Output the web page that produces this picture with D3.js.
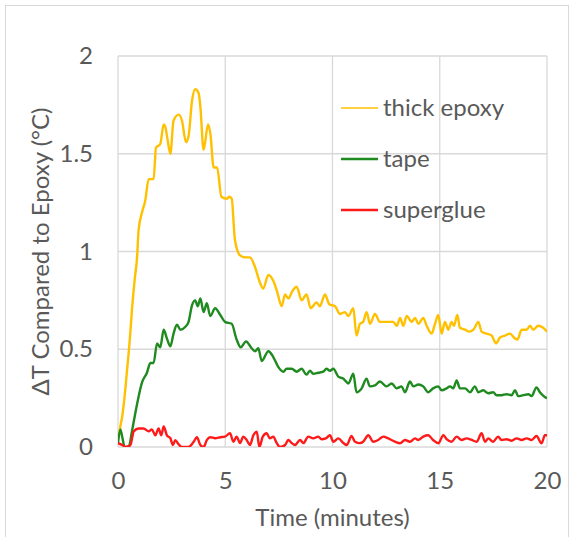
<!DOCTYPE html>
<html>
<head>
  <meta charset="UTF-8">
  <title>Delta T chart</title>
  <script src="https://cdn.jsdelivr.net/npm/d3@7"></script>
  <style type="text/css">
    body { margin: 0; background: #fff; }
    text { font-family: Lato, "Open Sans", sans-serif; fill: #595959; }
  </style>
</head>
<body>
  <script type="text/javascript">

    // data: [time (min), delta T (C)]
    var epoxy = [[0,0.04],[0.1,0.1],[0.2,0.16],[0.3,0.25],[0.42,0.39],[0.55,0.55],[0.65,0.70],[0.78,0.86],[0.89,0.97],[0.96,1.11],
      [1.12,1.2],[1.27,1.26],[1.43,1.37],[1.66,1.37],[1.77,1.53],[1.97,1.55],[2.13,1.65],[2.2,1.64],[2.3,1.58],[2.44,1.50],
      [2.59,1.67],[2.83,1.70],[2.98,1.67],[3.17,1.56],[3.29,1.59],[3.45,1.77],[3.6,1.83],[3.76,1.81],[3.84,1.74],[3.99,1.52],
      [4.2,1.65],[4.31,1.60],[4.46,1.43],[4.62,1.43],[4.82,1.28],[5.08,1.27],[5.18,1.28],[5.3,1.27],[5.45,1.06],[5.69,0.98],
      [5.92,0.97],[6.15,0.97],[6.39,0.92],[6.62,0.84],[6.77,0.81],[7.01,0.88],[7.24,0.85],[7.43,0.79],[7.63,0.72],[7.79,0.78],
      [7.94,0.76],[8.14,0.80],[8.33,0.82],[8.56,0.75],[8.79,0.78],[8.98,0.71],[9.26,0.74],[9.41,0.72],[9.65,0.78],[9.85,0.73],
      [10.12,0.72],[10.35,0.68],[10.58,0.69],[10.74,0.67],[10.97,0.71],[11.12,0.57],[11.28,0.63],[11.43,0.64],[11.59,0.69],[11.75,0.63],
      [11.98,0.68],[12.21,0.64],[12.52,0.64],[12.83,0.64],[13.0,0.62],[13.15,0.66],[13.3,0.62],[13.46,0.67],[13.69,0.64],[13.85,0.66],
      [14.0,0.63],[14.23,0.66],[14.39,0.62],[14.62,0.58],[14.78,0.63],[14.93,0.675],[15.09,0.58],[15.24,0.64],[15.4,0.60],[15.55,0.64],
      [15.66,0.62],[15.82,0.675],[15.94,0.61],[16.18,0.60],[16.37,0.59],[16.57,0.60],[16.8,0.64],[16.95,0.59],[17.18,0.58],[17.42,0.57],
      [17.62,0.53],[17.81,0.56],[18.04,0.57],[18.27,0.58],[18.51,0.555],[18.62,0.55],[18.82,0.60],[19.05,0.60],[19.21,0.62],[19.36,0.60],
      [19.59,0.62],[19.82,0.61],[20.0,0.59]];

    var tape = [[0,0.02],[0.11,0.09],[0.2,0.05],[0.31,0],[0.5,0],[0.65,0.08],[0.89,0.22],[1.12,0.33],[1.35,0.38],[1.51,0.43],
      [1.66,0.43],[1.82,0.53],[1.97,0.51],[2.13,0.60],[2.28,0.555],[2.44,0.515],[2.59,0.58],[2.75,0.625],[2.91,0.60],[3.14,0.615],
      [3.29,0.64],[3.45,0.725],[3.6,0.75],[3.72,0.72],[3.84,0.76],[3.99,0.69],[4.14,0.735],[4.3,0.67],[4.53,0.71],[4.77,0.675],
      [4.99,0.64],[5.3,0.63],[5.53,0.55],[5.72,0.51],[5.97,0.54],[6.23,0.505],[6.39,0.49],[6.54,0.505],[6.7,0.44],[7.01,0.49],
      [7.24,0.46],[7.47,0.41],[7.71,0.385],[7.86,0.40],[8.1,0.40],[8.33,0.385],[8.56,0.40],[8.79,0.37],[8.95,0.39],[9.1,0.375],
      [9.34,0.38],[9.57,0.385],[9.72,0.40],[9.88,0.39],[10.04,0.40],[10.27,0.36],[10.5,0.35],[10.74,0.325],[10.97,0.375],[11.12,0.28],
      [11.36,0.30],[11.59,0.35],[11.74,0.31],[11.98,0.315],[12.21,0.335],[12.52,0.31],[12.76,0.325],[12.99,0.30],[13.22,0.31],[13.38,0.28],
      [13.61,0.335],[13.77,0.31],[14.0,0.32],[14.23,0.31],[14.46,0.28],[14.69,0.30],[14.93,0.31],[15.09,0.29],[15.32,0.30],[15.48,0.31],
      [15.63,0.30],[15.79,0.34],[15.94,0.30],[16.18,0.30],[16.41,0.28],[16.64,0.31],[16.8,0.28],[17.03,0.29],[17.26,0.275],[17.49,0.28],
      [17.65,0.265],[17.88,0.265],[18.11,0.27],[18.35,0.265],[18.51,0.29],[18.66,0.26],[18.89,0.265],[19.13,0.27],[19.28,0.26],[19.51,0.305],
      [19.67,0.28],[19.91,0.255],[20,0.25]];

    var superglue = [[0,0.02],[0.2,0.01],[0.35,0],[0.58,0.01],[0.73,0.08],[0.96,0.095],[1.19,0.095],[1.43,0.08],[1.58,0.09],[1.74,0.06],
      [1.89,0.095],[2.02,0.06],[2.13,0.105],[2.28,0.06],[2.44,0.045],[2.56,0.01],[2.67,0.035],[2.82,0.015],[2.98,0],[3.29,0],
      [3.52,0.025],[3.68,0.05],[3.84,0.01],[3.99,0],[4.14,0.035],[4.3,0.05],[4.53,0.045],[4.77,0.05],[4.99,0.053],[5.22,0.07],
      [5.38,0.027],[5.53,0.053],[5.69,0.02],[5.84,0.053],[6.0,0.036],[6.15,0.01],[6.31,0.06],[6.47,0.078],[6.59,0],[6.75,0.053],
      [6.93,0.07],[7.08,0.044],[7.24,0.053],[7.4,0.02],[7.55,0],[7.79,0.01],[7.94,0.036],[8.1,0.02],[8.25,0.01],[8.49,0.036],
      [8.64,0.02],[8.87,0.053],[9.1,0.044],[9.34,0.053],[9.49,0.04],[9.69,0.044],[9.88,0.06],[10.04,0.027],[10.27,0.044],[10.51,0.02],
      [10.66,0.01],[10.89,0.056],[11.05,0.027],[11.28,0.02],[11.43,0.027],[11.67,0.06],[11.9,0.027],[12.13,0.036],[12.37,0.053],[12.6,0.044],
      [12.91,0.027],[13.15,0.019],[13.38,0.036],[13.61,0.027],[13.85,0.044],[14.0,0.036],[14.23,0.053],[14.46,0.06],[14.69,0.036],[14.93,0.019],
      [15.17,0.06],[15.32,0.04],[15.55,0.027],[15.79,0.053],[16.02,0.036],[16.25,0.044],[16.49,0.036],[16.72,0.027],[16.95,0.07],[17.11,0.027],
      [17.26,0.044],[17.49,0.027],[17.72,0.053],[17.88,0.036],[18.11,0.04],[18.35,0.032],[18.58,0.044],[18.82,0.036],[19.05,0.044],[19.28,0.036],
      [19.51,0.056],[19.75,0.019],[19.9,0.06],[20,0.06]];

    var seriesNames = ["thick epoxy", "tape", "superglue"];
    var seriesColors = ["#FFC000", "#1F8A1F", "#FF1A1A"];
    var xTicks = [0, 5, 10, 15, 20];
    var yTicks = [0, 0.5, 1, 1.5, 2];

    var W = 571, H = 537;
    var FS = 24; // font size for all text
    var margin = {top: 56, right: 24, bottom: 90, left: 118},
        width = W - margin.left - margin.right,
        height = H - margin.top - margin.bottom;

    var x = d3.scaleLinear().domain([0, 20]).range([0, width]);
    var y = d3.scaleLinear().domain([0, 2]).range([height, 0]);

    var svg = d3.select("body").append("svg")
        .attr("width", W)
        .attr("height", H);

    // outer frame
    svg.append("rect")
        .attr("x", 5.5).attr("y", 5.5)
        .attr("width", 563).attr("height", 545)
        .attr("fill", "none")
        .attr("stroke", "#d9d9d9");

    var g = svg.append("g")
        .attr("transform", "translate(" + margin.left + "," + margin.top + ")");

    // gridlines
    g.selectAll(".hgrid").data(yTicks).enter().append("line")
        .attr("x1", 0).attr("x2", width)
        .attr("y1", function(d) { return y(d); })
        .attr("y2", function(d) { return y(d); })
        .attr("stroke", "#d9d9d9").attr("stroke-width", 1.3);

    g.selectAll(".vgrid").data(xTicks).enter().append("line")
        .attr("y1", 0).attr("y2", height)
        .attr("x1", function(d) { return x(d); })
        .attr("x2", function(d) { return x(d); })
        .attr("stroke", "#d9d9d9").attr("stroke-width", 1.3);

    // axes (labels only, lines are the gridlines)
    var xAxis = d3.axisBottom(x).tickValues(xTicks).tickSize(0).tickPadding(25);
    var yAxis = d3.axisLeft(y).tickValues(yTicks).tickSize(0).tickPadding(25)
        .tickFormat(function(d) { return String(d); });

    var gx = g.append("g").attr("transform", "translate(0," + height + ")").call(xAxis);
    var gy = g.append("g").call(yAxis);
    [gx, gy].forEach(function(a) {
      a.select(".domain").remove();
      a.selectAll("text").attr("font-size", FS).attr("font-family", null).style("fill", "#595959");
    });

    // lines
    g.append("clipPath").attr("id", "plotclip").append("rect")
        .attr("x", 0).attr("y", -2).attr("width", width).attr("height", height + 2);

    var line = d3.line()
        .x(function(d) { return x(d[0]); })
        .y(function(d) { return y(d[1]); })
        .curve(d3.curveMonotoneX);

    var allSeries = [epoxy, tape, superglue];
    allSeries.forEach(function(s, i) {
      g.append("path")
          .attr("d", line(s))
          .attr("fill", "none")
          .attr("stroke", seriesColors[i])
          .attr("stroke-width", 2.4)
          .attr("stroke-linejoin", "round")
          .attr("clip-path", "url(#plotclip)");
    });

    // legend
    var legend = svg.append("g").attr("transform", "translate(341,108)");
    seriesNames.forEach(function(name, i) {
      var row = legend.append("g").attr("transform", "translate(0," + (i * 51) + ")");
      row.append("line")
          .attr("x1", 0).attr("x2", 37)
          .attr("stroke", seriesColors[i])
          .attr("stroke-width", i == 0 ? 1.6 : 2.4);
      row.append("text")
          .attr("x", 42).attr("dy", "0.35em")
          .attr("font-size", FS)
          .text(name);
    });

    // axis titles
    svg.append("text")
        .attr("x", margin.left + width / 2)
        .attr("y", 526)
        .attr("text-anchor", "middle")
        .attr("font-size", FS)
        .text("Time (minutes)");

    svg.append("text")
        .attr("transform", "translate(49," + (margin.top + height / 2) + ") rotate(-90)")
        .attr("text-anchor", "middle")
        .attr("font-size", FS)
        .text("\u0394T Compared to Epoxy (\u00B0C)");

  </script>
</body>
</html>
